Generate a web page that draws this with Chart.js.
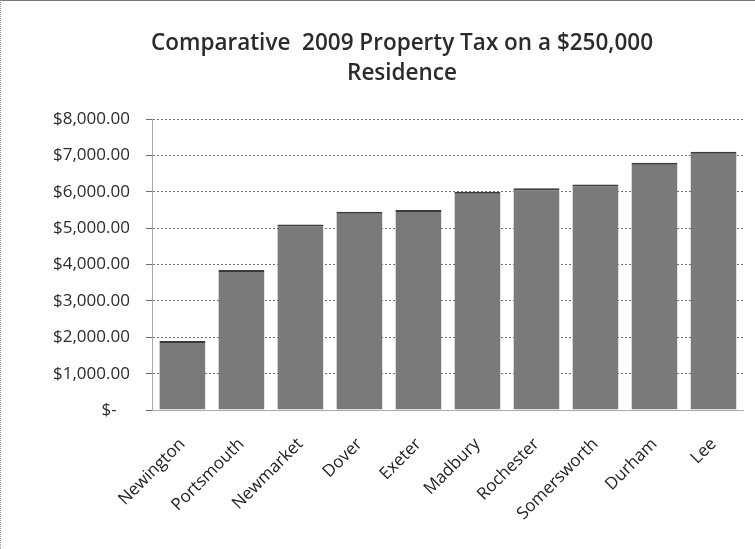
<!DOCTYPE html>
<html lang="en">
<head>
    <meta charset="UTF-8">
    <title>Comparative 2009 Property Tax</title>
    <script src="https://cdn.jsdelivr.net/npm/chart.js"></script>
    <style>
        html, body { margin: 0; padding: 0; background: #fff; }
        .wrap { width: 755px; height: 549px; position: relative; box-sizing: border-box;
                border-top: 1px solid #777; border-left: 1px dotted #999; }
    </style>
</head>
<body>
    <div class="wrap"><canvas id="taxChart"></canvas></div>
    <script>
    // towns and tax on a $250,000 residence
    const towns = ['Newington', 'Portsmouth', 'Newmarket', 'Dover', 'Exeter',
                   'Madbury', 'Rochester', 'Somersworth', 'Durham', 'Lee'];
    const taxes = [1900, 3850, 5100, 5450, 5500, 6000, 6100, 6200, 6800, 7100];
    const yTicks = [0, 1000, 2000, 3000, 4000, 5000, 6000, 7000, 8000];
    const titleLines = ['Comparative  2009 Property Tax on a $250,000', 'Residence'];

    // accounting style: zero shows as "$-"
    const money = v => v === 0 ? '$-   ' :
        '$' + v.toLocaleString('en-US', {minimumFractionDigits: 2, maximumFractionDigits: 2});

    // the title sits a bit right of the canvas centre in the original, so draw it here
    const titlePlugin = {
        id: 'offsetTitle',
        afterDraw(chart) {
            const c = chart.ctx;
            c.save();
            c.fillStyle = '#2b2b2b';
            c.font = '600 22.5px "Open Sans"';
            c.textAlign = 'center';
            c.textBaseline = 'middle';
            titleLines.forEach((t, i) => c.fillText(t, 401, 43 + i * 30));
            c.restore();
        }
    };

    const ctx = document.getElementById('taxChart').getContext('2d');
    new Chart(ctx, {
        type: 'bar',
        data: {
            labels: towns,
            datasets: [{
                data: taxes,
                backgroundColor: '#7a7a7a',
                borderColor: '#3a3a3a',
                borderWidth: {top: 2, left: 0, right: 0, bottom: 0},
                barPercentage: 0.78,
                categoryPercentage: 1
            }]
        },
        options: {
            responsive: true,
            maintainAspectRatio: false,
            animation: false,
            layout: {padding: {left: 36, right: 12, top: 118, bottom: 9}},
            plugins: {
                legend: {display: false},
                tooltip: {enabled: false},
                title: {display: false}
            },
            scales: {
                x: {
                    grid: {display: false},
                    border: {color: '#aaa'},
                    ticks: {
                        color: '#222',
                        font: {family: 'Open Sans', size: 17},
                        maxRotation: 45, minRotation: 45,
                        padding: 16
                    }
                },
                y: {
                    min: 0, max: 8000,
                    afterBuildTicks: axis => { axis.ticks = yTicks.map(v => ({value: v})); },
                    grid: {color: '#707070', drawTicks: true, tickLength: 7},
                    border: {color: '#aaa', dash: [2, 2]},
                    ticks: {
                        color: '#2b2b2b',
                        font: {family: 'Open Sans', size: 17},
                        padding: 16,
                        callback: v => money(v)
                    }
                }
            }
        },
        plugins: [titlePlugin]
    });
    </script>
</body>
</html>
